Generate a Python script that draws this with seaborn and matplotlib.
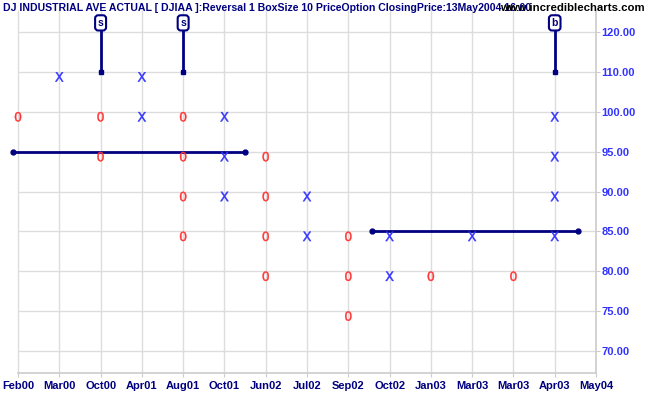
import matplotlib
matplotlib.use("Agg")
import matplotlib.pyplot as plt
import matplotlib.transforms as mtransforms
import seaborn as sns
import pandas as pd

# ---------------- data ----------------
price_levels = [70, 75, 80, 85, 90, 95, 100, 110, 120]
price_labels = ["70.00", "75.00", "80.00", "85.00", "90.00", "95.00", "100.00", "110.00", "120.00"]
x_labels = ["Feb00", "Mar00", "Oct00", "Apr01", "Aug01", "Oct01", "Jun02", "Jul02",
            "Sep02", "Oct02", "Jan03", "Mar03", "Mar03", "Apr03", "May04"]
col_types = ["O", "X", "O", "X", "O", "X", "O", "X", "O", "X", "O", "X", "O", "X"]
col_boxes = [[100], [110], [100, 95], [110, 100], [100, 95, 90, 85], [100, 95, 90],
             [95, 90, 85, 80], [90, 85], [85, 80, 75], [85, 80], [80], [85], [80],
             [100, 95, 90, 85]]
signal_cols = [2, 4, 13]
signal_text = ["s", "s", "b"]
signal_price = 110
trend_level = [95, 85]
trend_start = [-0.12, 8.57]
trend_end = [5.5, 13.57]
title = "DJ INDUSTRIAL AVE ACTUAL [ DJIAA ]:Reversal 1 BoxSize 10 PriceOption ClosingPrice:13May2004 16:00"
watermark = "www.incrediblecharts.com"

# ---------------- build table ----------------
rows = []
for c, (t, boxes) in enumerate(zip(col_types, col_boxes)):
    for p in boxes:
        rows.append({"col": c, "row": price_levels.index(p), "type": t})
df = pd.DataFrame(rows)

sns.set_style("white")
plt.rcParams["font.family"] = ["Liberation Sans", "DejaVu Sans"]

W, H = 651, 395
fig = plt.figure(figsize=(W / 100, H / 100), dpi=100)
ax = fig.add_axes([0, (H - 373) / H, 596 / W, (373 - 10) / H])

ncols = len(x_labels)
ymin, ymax = -0.553, len(price_levels) - 1 + 0.553
ax.set_xlim(-18 / 41.25, ncols - 1)
ax.set_ylim(ymin, ymax)

grid_c = "#dddddd"
ax.vlines(range(ncols), ymin, ymax, color=grid_c, lw=1.0, zorder=0)
ax.hlines(range(len(price_levels)), 0, ncols - 1, color=grid_c, lw=1.0, zorder=0)

navy = "#000080"

# trend lines
for lvl, x0, x1 in zip(trend_level, trend_start, trend_end):
    r = price_levels.index(lvl)
    ax.plot([x0, x1], [r, r], color=navy, lw=2.0, marker="o", ms=3.5, zorder=3,
            solid_capstyle="butt")

# X / O boxes
sns.scatterplot(data=df, x="col", y="row", hue="type", style="type",
                palette={"X": "#3333ff", "O": "#ff3333"},
                markers={"X": r"$\mathsf{X}$", "O": r"$\mathsf{0}$"},
                s=46, linewidth=0.3, legend=False, ax=ax, zorder=4)
off = mtransforms.ScaledTranslation(0, -5 / 100, fig.dpi_scale_trans)
for coll in ax.collections:
    if hasattr(coll, "get_offsets") and len(coll.get_offsets()) == len(df):
        coll.set_offset_transform(ax.transData + off)
        coll.set_edgecolor(coll.get_facecolor())

# signals
sr = price_levels.index(signal_price)
box_row = len(price_levels) - 1 + 0.23
for c, t in zip(signal_cols, signal_text):
    ax.plot([c, c], [sr, box_row], color=navy, lw=2.0, zorder=3)
    ax.plot([c], [sr], marker="s", ms=3, color=navy, zorder=3)
    ax.text(c, box_row, t, ha="center", va="center", fontsize=7.5, fontweight="bold",
            color=navy, zorder=5,
            bbox=dict(boxstyle="round,pad=0.25,rounding_size=0.3", fc="white",
                      ec=navy, lw=1.5))

# axes styling
for s in ["left", "top"]:
    ax.spines[s].set_visible(False)
ax.spines["bottom"].set_color("#cccccc")
ax.spines["bottom"].set_bounds(0, ncols - 1)
ax.spines["right"].set_color("#cccccc")
ax.spines["bottom"].set_linewidth(1.2)
ax.spines["right"].set_linewidth(1.2)

ax.set_xticks(range(ncols))
ax.set_xticklabels(x_labels, fontsize=8, fontweight="bold", color=navy)
ax.yaxis.tick_right()
ax.set_yticks(range(len(price_levels)))
ax.set_yticklabels(price_labels, fontsize=8, fontweight="bold", color="#3333ff")
ax.tick_params(axis="x", length=3, color="#cccccc", pad=3, bottom=True)
ax.tick_params(axis="y", length=3, color="#cccccc", pad=1, right=True, left=False)
ax.set_xlabel("")
ax.set_ylabel("")
ax.grid(False)

fig.text(3 / W, 1 - 8 / H, title, fontsize=7.6, fontweight="bold", color=navy,
         ha="left", va="center")
fig.text(645 / W, 1 - 8 / H, watermark, fontsize=8.2, fontweight="bold", color="black",
         ha="right", va="center")

fig.savefig("out.png", dpi=100)
